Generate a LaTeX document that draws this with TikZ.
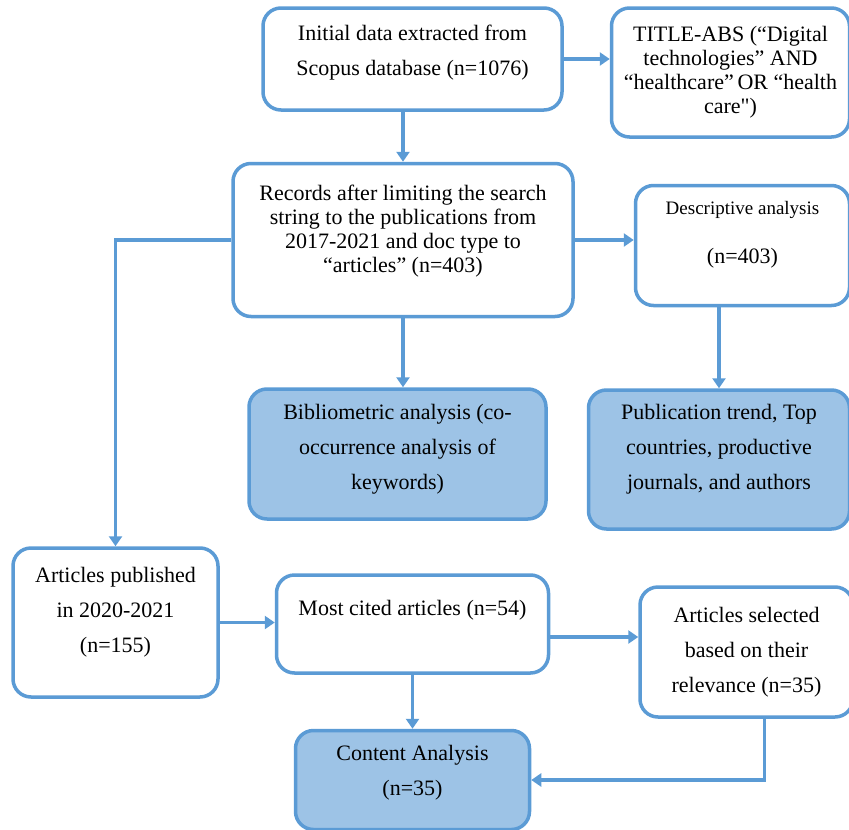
\documentclass[tikz,border=0pt]{standalone}
\usepackage{fontspec}
\setmainfont{Liberation Serif}[Ligatures=TeXOff]
\usepackage{tikz}
\usetikzlibrary{positioning}
\usetikzlibrary{calc}
\usetikzlibrary{arrows.meta}

\definecolor{edgeblue}{HTML}{5B9BD5}
\definecolor{fillblue}{HTML}{9DC3E6}

\begin{document}
\begin{tikzpicture}[
	x=1pt, y=-1pt,
	box/.style={
		draw=edgeblue,
		line width=3.5pt,
		rounded corners=18pt,
		fill=white,
		align=center,
		inner sep=0pt,
		font=\fontsize{22}{35}\selectfont
	},
	resultbox/.style={box, fill=fillblue},
	tight/.style={font=\fontsize{22}{24}\selectfont},
	arr/.style={draw=edgeblue, line width=3.5pt, -{Triangle[length=10pt,width=13pt]}}
]

\useasboundingbox (0,0) rectangle (849,830);

\node[
	box,
	minimum width=299pt,
	minimum height=102pt
] (initial) at (412.5,59) {Initial data extracted from\\Scopus database (n=1076)\\[-18pt]\mbox{}};

\node[
	box, tight,
	minimum width=238pt,
	minimum height=129pt,
	right=46pt of initial.north east,
	anchor=north west
] (query) {TITLE-ABS (“Digital\\technologies” AND\\“healthcare”\,OR “health\\care")};

\node[
	box, tight,
	minimum width=340pt,
	minimum height=153pt,
	below=50pt of initial,
	xshift=-9.5pt
] (records) {Records after limiting the search\\string to the publications from\\2017-2021 and doc type to\\“articles” (n=403)\\[-1pt]\mbox{}};

\node[
	box,
	minimum width=214pt,
	minimum height=120pt,
	right=59pt of records.north east,
	anchor=north west,
	yshift=-22pt
] (descriptive) {{\fontsize{19}{20}\selectfont Descriptive analysis}\\[14pt](n=403)\\[-8pt]\mbox{}};

\node[
	resultbox,
	minimum width=297pt,
	minimum height=130pt,
	below=69pt of records,
	xshift=-5.5pt
] (biblio) {Bibliometric analysis (co-\\occurrence analysis of\\keywords)\\[-20pt]\mbox{}};

\node[
	resultbox,
	minimum width=261pt,
	minimum height=139pt,
	below=81pt of descriptive,
	xshift=-23.5pt
] (trends) {Publication trend, Top\\countries, productive\\journals, and authors\\[-10pt]\mbox{}};

\node[
	box,
	minimum width=205pt,
	minimum height=149pt
] (recent) at (115.5,622.5) {Articles published\\in 2020-2021\\(n=155)\\[-9pt]\mbox{}};

\node[
	box,
	minimum width=272pt,
	minimum height=98pt,
	right=55pt of recent.north east,
	anchor=north west,
	yshift=-27pt
] (cited) {Most cited articles (n=54)\\[-2pt]\mbox{}};

\node[
	box,
	minimum width=213pt,
	minimum height=130pt,
	right=88pt of cited.north east,
	anchor=north west,
	yshift=-12pt
] (selected) {Articles selected\\based on their\\relevance (n=35)};

\node[
	resultbox,
	minimum width=234pt,
	minimum height=99pt,
	below=54pt of cited
] (content) {Content Analysis\\(n=35)\\[-16pt]\mbox{}};

% ---

\draw[arr] (initial.east) -- (initial.east -| query.west);

\draw[arr] (records.north |- initial.south) -- (records.north);

\draw[arr] (records.east) -- (records.east -| descriptive.west);

\draw[arr] (records.south) -- (records.south |- biblio.north);

\draw[arr] (trends.north |- descriptive.south) -- (trends.north);

\draw[arr] (records.west) -| (recent.north);

\draw[arr] (recent.east) -- (recent.east -| cited.west);

\draw[arr] ([yshift=-13pt]cited.east) -- ([yshift=-13pt]cited.east -| selected.west);

\draw[arr] (cited.south) -- (content.north);

\draw[arr] ([xshift=18pt]selected.south) |- (content.east);

\end{tikzpicture}
\end{document}
